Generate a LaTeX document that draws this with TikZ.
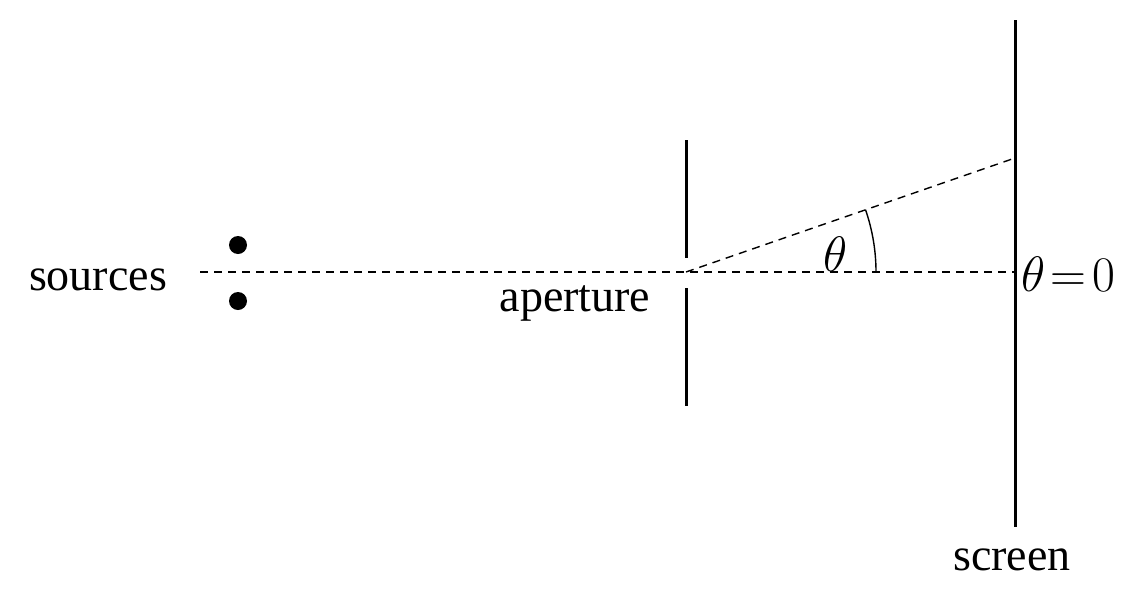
\documentclass[tikz,border=0pt]{standalone}
\usepackage{fontspec}
\setmainfont{Liberation Serif}
\begin{document}
\begin{tikzpicture}[x=0.5pt,y=-0.5pt,
  lbl/.style={font=\fontsize{23}{27}\selectfont, inner sep=0pt},
  wall/.style={line width=1.5pt},
  ray/.style={dashed, line width=0.7pt, dash pattern=on 4pt off 3pt}]
\useasboundingbox (0,0) rectangle (1141,595);
\coordinate (axL) at (200,272);
\coordinate (ap) at (686,272);
\coordinate (sc) at (1015,272);
\coordinate (hit) at (1015,158);
\draw[ray] (axL) -- (sc);
\draw[ray] (ap) -- (hit);
\fill (238,245) circle[radius=9];
\fill (238,301) circle[radius=9];
\draw[wall] (686,140) -- (686,258);
\draw[wall] (686,288) -- (686,406);
\draw[wall] (1015,20) -- (1015,527);
\draw[line width=0.7pt] (876,272) arc[start angle=0, end angle=19.1, x radius=190, y radius=-190];
\node[lbl] (src) at (98,280) {sources};
\node[lbl] (apl) at (575,303) {aperture};
\node[lbl] (scl) at (1012,560) {screen};
\node[lbl] (th) at (836,254) {$\theta$};
\node[lbl] (th0) at (1068,274) {$\theta\!=\!0$};
\end{tikzpicture}
\end{document}
